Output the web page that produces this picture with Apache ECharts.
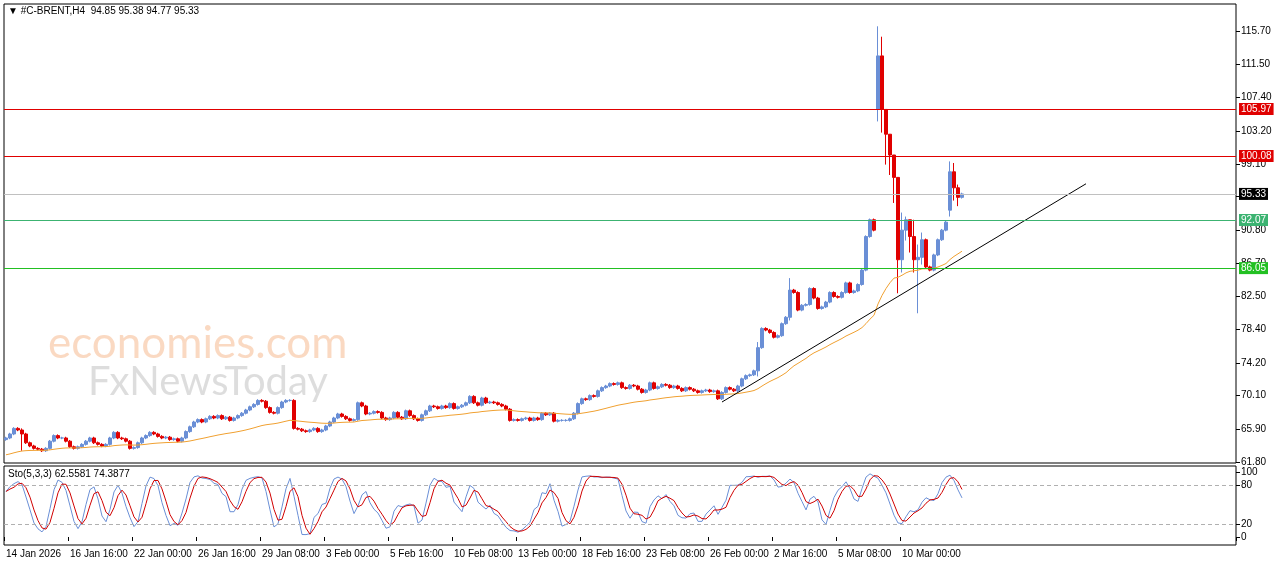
<!DOCTYPE html>
<html><head><meta charset="utf-8">
<script src="https://cdn.jsdelivr.net/npm/echarts@6/dist/echarts.min.js"></script>
<style>html,body{margin:0;padding:0;background:#fff}#c{width:1280px;height:567px}</style>
</head><body><div id="c"></div>
<script>
const closes = [
64.8,65.3,66.0,65.8,65.3,64.2,63.8,63.5,63.4,63.2,63.5,64.4,65.1,64.8,64.8,64.4,63.7,63.5,63.7,64.0,64.4,64.8,64.2,64.0,63.8,64.0,64.8,65.5,64.8,64.7,64.4,63.5,63.6,64.2,64.8,65.1,65.5,65.3,65.0,64.8,64.9,64.6,64.7,64.4,64.8,65.6,66.2,66.8,67.1,66.8,67.2,67.5,67.3,67.6,67.2,67.4,
67.0,67.3,67.6,67.9,68.3,68.7,69.0,69.5,69.4,68.6,68.0,67.9,68.6,69.3,69.5,69.5,66.0,
65.9,65.7,65.6,65.8,66.0,65.6,65.8,66.3,66.8,67.3,67.8,67.5,67.2,67.0,67.1,
69.2,68.8,67.8,67.9,68.1,68.0,67.3,67.1,67.3,68.0,67.4,67.2,68.2,67.6,67.2,67.0,67.7,68.2,68.8,68.7,68.5,68.8,68.6,69.1,68.5,68.7,68.9,69.2,70.0,69.2,68.9,
69.8,69.2,69.3,69.2,69.0,68.8,68.4,67.0,67.1,67.0,67.2,67.3,67.0,67.3,67.1,67.9,67.7,67.9,66.9,67.0,67.0,67.0,67.2,67.9,69.1,69.7,69.6,70.1,70.0,70.7,71.1,71.3,71.6,71.5,71.7,71.1,71.0,71.4,71.3,70.9,70.5,70.8,71.7,71.0,71.2,71.5,71.4,71.1,71.3,71.0,70.7,71.1,70.9,70.7,70.5,70.7,70.8,70.6,70.7,69.7,70.5,71.1,
70.9,70.7,71.3,72.2,72.6,72.7,73.2,76.1,78.5,78.3,78.0,77.4,77.6,79.1,79.9,83.3,83.0,80.8,81.4,81.5,83.5,82.3,81.0,81.2,81.8,83.0,82.5,82.4,83.0,84.2,83.0,83.2,84.0,85.8,90.0,92.1,90.8,112.6,105.9,102.8,100.2,97.4,87.1,90.8,92.1,90.0,87.1,87.4,89.6,86.2,85.8,87.7,89.6,90.8,91.8,98.1,96.1,94.9,95.33];
const firstOpen = 64.6;
const gapOpens = {218:105.9, 236:93.3};
const wicks = {4:[63.2,66.0],218:[104.4,116.3],219:[103.0,115.0],220:[99.0,105.9],221:[97.7,102.8],222:[94.2,100.2],223:[82.9,97.4],224:[85.5,93.0],225:[89.5,92.5],226:[88.0,92.1],227:[85.5,92.1],228:[80.4,89.0],229:[86.5,90.5],236:[92.5,99.4],237:[94.5,99.2],238:[93.8,96.5],188:[72.5,76.8],196:[79.5,84.8]};
const dateLabels = ['14 Jan 2026','16 Jan 16:00','22 Jan 00:00','26 Jan 16:00','29 Jan 08:00','3 Feb 00:00','5 Feb 16:00','10 Feb 08:00','13 Feb 00:00','18 Feb 16:00','23 Feb 08:00','26 Feb 00:00','2 Mar 16:00','5 Mar 08:00','10 Mar 00:00'];
const priceTicks = [61.80,65.90,70.10,74.20,78.40,82.50,86.70,90.80,95.00,99.10,103.20,107.40,111.50,115.70];
const levels = [{v:105.97,c:'#e00000'},{v:100.08,c:'#e00000'},{v:92.07,c:'#3cb371'},{v:86.05,c:'#22c022'}];
const lastPrice = 95.33;
const trendLine = [[179,69.3],[270,96.6]];
const maSeed = 62.6, maPeriod = 45;

const N = 308;
const cats = Array.from({length:N},(_,i)=>String(i));
const ohlc = closes.map((c,i)=>{
  const o = gapOpens[i]!==undefined ? gapOpens[i] : (i===0?firstOpen:closes[i-1]);
  const w = wicks[i];
  const lo = w?w[0]:Math.min(o,c)-0.15, hi = w?w[1]:Math.max(o,c)+0.15;
  return [o,c,lo,hi];
});
let ema = maSeed; const ma=[]; const a=2/(maPeriod+1);
closes.forEach(c=>{ema=ema+a*(c-ema);ma.push(+ema.toFixed(3));});
const raw=[],K=[],D=[];
ohlc.forEach((d,i)=>{const s=Math.max(0,i-4);let hh=-1e9,ll=1e9;for(let j=s;j<=i;j++){hh=Math.max(hh,ohlc[j][3]);ll=Math.min(ll,ohlc[j][2]);}raw.push(hh>ll?(d[1]-ll)/(hh-ll)*100:50);});
raw.forEach((r,i)=>{const s=Math.max(0,i-2);let t=0;for(let j=s;j<=i;j++)t+=raw[j];K.push(+(t/(i-s+1)).toFixed(2));});
K.forEach((r,i)=>{const s=Math.max(0,i-2);let t=0;for(let j=s;j<=i;j++)t+=K[j];D.push(+(t/(i-s+1)).toFixed(2));});

const FF = 'Liberation Sans, Arial';
const ml = levels.map(l=>({yAxis:l.v,lineStyle:{color:l.c,width:1,type:'solid'},label:{show:true,position:'end',distance:3,formatter:l.v.toFixed(2),color:'#fff',backgroundColor:l.c,padding:[1,2],fontSize:10,fontFamily:FF}}));
ml.push({yAxis:lastPrice,lineStyle:{color:'#c0c0c0',width:1,type:'solid'},label:{show:true,position:'end',distance:3,formatter:lastPrice.toFixed(2),color:'#fff',backgroundColor:'#000',padding:[1,2],fontSize:10,fontFamily:FF}});

const chart = echarts.init(document.getElementById('c'));
const axLbl = {color:'#000',fontSize:10,fontFamily:FF};
chart.setOption({
  animation:false,
  graphic:[
    {type:'text',left:8,top:6,style:{text:'▼ #C-BRENT,H4  94.85 95.38 94.77 95.33',fill:'#000',font:'10px Liberation Sans, Arial'}},
    {type:'text',left:8,top:469,style:{text:'Sto(5,3,3) 62.5581 74.3877',fill:'#000',font:'10px Liberation Sans, Arial'}},
    {type:'text',left:48,top:322,z:-1,style:{text:'economies.com',fill:'rgba(245,170,120,0.45)',font:'44px Lato, Arial'}},
    {type:'text',left:88,top:362,z:-1,style:{text:'FxNewsToday',fill:'rgba(180,180,180,0.45)',font:'40px Lato, Arial'}}
  ],
  grid:[
    {left:4,right:44,top:4,height:459,show:true,borderColor:'#000',borderWidth:1,backgroundColor:'transparent'},
    {left:4,right:44,top:466,height:79,show:true,borderColor:'#000',borderWidth:1}
  ],
  xAxis:[
    {type:'category',data:cats,gridIndex:0,boundaryGap:true,axisLine:{show:false},axisTick:{show:false},axisLabel:{show:false},splitLine:{show:false}},
    {type:'category',data:cats,gridIndex:1,boundaryGap:true,axisLine:{show:false},
     axisTick:{show:true,interval:(i)=>i%16===0&&i/16<dateLabels.length,length:4,inside:false,lineStyle:{color:'#000'}},
     axisLabel:{...axLbl,align:'left',margin:4,interval:(i)=>i%16===0&&i/16<dateLabels.length,formatter:(v,i)=>dateLabels[i/16]||''},splitLine:{show:false}}
  ],
  yAxis:[
    {type:'value',gridIndex:0,position:'right',min:61.67,max:119.09,axisLine:{show:false},
     axisTick:{show:true,customValues:priceTicks,length:4,lineStyle:{color:'#000'}},
     axisLabel:{...axLbl,margin:5,customValues:priceTicks,formatter:v=>v.toFixed(2)},splitLine:{show:false}},
    {type:'value',gridIndex:1,position:'right',min:-12.3,max:109.2,axisLine:{show:false},
     axisTick:{show:true,customValues:[0,20,80,100],length:4,lineStyle:{color:'#000'}},
     axisLabel:{...axLbl,margin:5,customValues:[0,20,80,100],formatter:v=>String(v)},splitLine:{show:false}}
  ],
  series:[
    {type:'candlestick',xAxisIndex:0,yAxisIndex:0,data:ohlc,barWidth:3,
     itemStyle:{color:'#6a8fd6',color0:'#e00000',borderColor:'#6a8fd6',borderColor0:'#e00000',borderWidth:1},
     markLine:{symbol:'none',silent:true,data:ml}},
    {type:'line',xAxisIndex:0,yAxisIndex:0,data:ma,showSymbol:false,lineStyle:{color:'#f0a030',width:1}},
    {type:'line',xAxisIndex:0,yAxisIndex:0,data:trendLine,showSymbol:false,lineStyle:{color:'#000',width:1}},
    {type:'line',xAxisIndex:1,yAxisIndex:1,data:K,showSymbol:false,lineStyle:{color:'#6a8fd6',width:1}},
    {type:'line',xAxisIndex:1,yAxisIndex:1,data:D,showSymbol:false,lineStyle:{color:'#d00000',width:1},
     markLine:{symbol:'none',silent:true,label:{show:false},lineStyle:{color:'#b0b0b0',type:[4,3],width:1},data:[{yAxis:80},{yAxis:20}]}}
  ]
});
</script></body></html>
